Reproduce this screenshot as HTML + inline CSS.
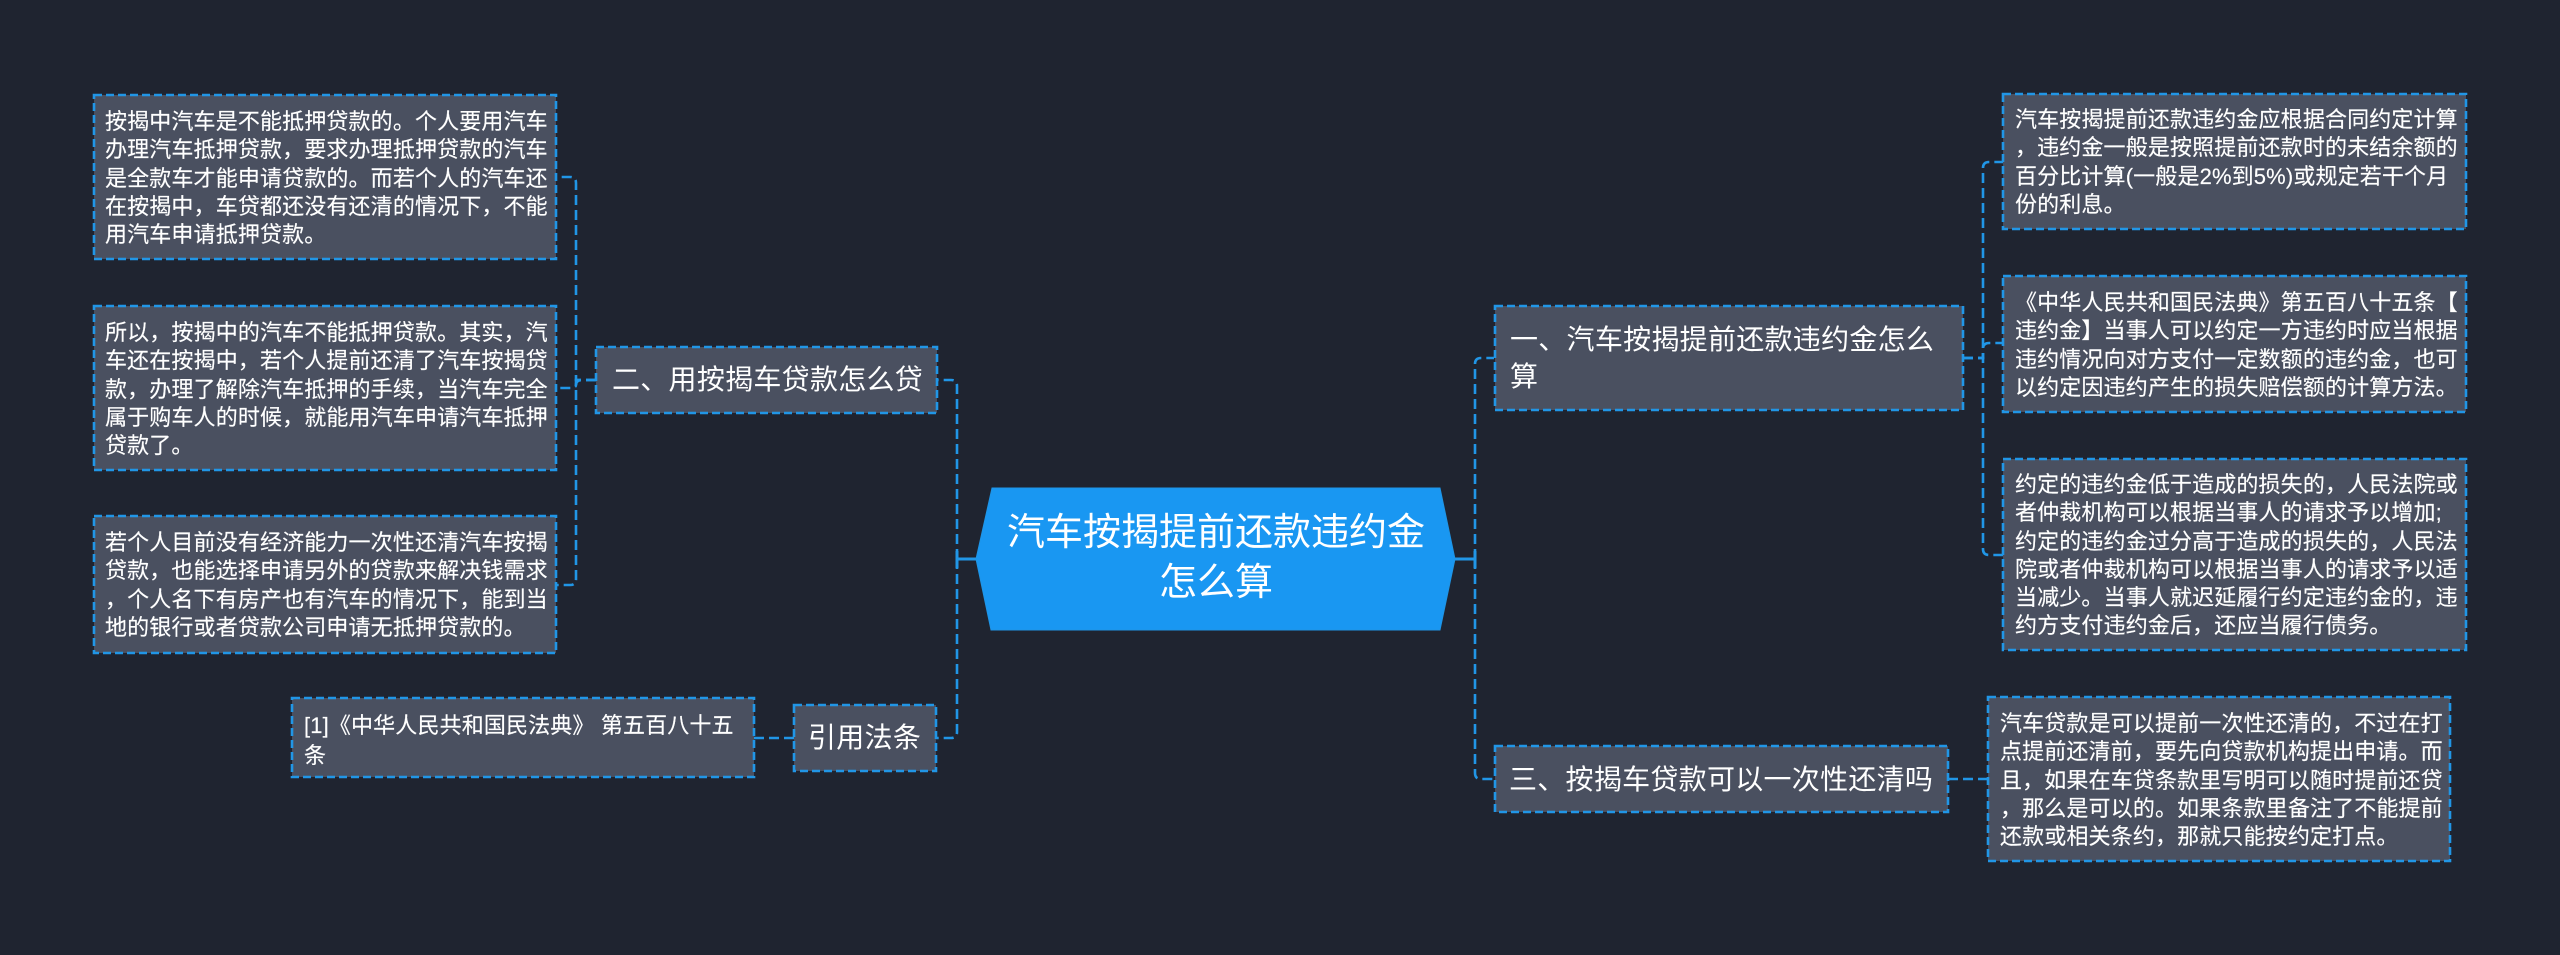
<!DOCTYPE html>
<html lang="zh-CN"><head><meta charset="utf-8"><title>汽车按揭提前还款违约金怎么算</title>
<style>
html,body{margin:0;padding:0;background:#1f2430;}
#c{position:relative;width:2560px;height:955px;overflow:hidden;background:#1f2430;font-family:"Liberation Sans","Noto Sans CJK SC",sans-serif;color:#fff;}
svg{position:absolute;left:0;top:0;}
.t{position:absolute;white-space:nowrap;font-size:22px;line-height:28.3px;letter-spacing:.14px;color:#fff;-webkit-text-stroke:.15px #fff;}
.h{position:absolute;white-space:nowrap;font-size:28px;line-height:37px;letter-spacing:.28px;color:#fff;}
.r{position:absolute;left:976px;width:480px;text-align:center;font-size:38px;line-height:50px;color:#fff;white-space:nowrap;}
</style></head><body><div id="c">
<svg width="2560" height="955" viewBox="0 0 2560 955">
<g fill="none" stroke="#2196e6" stroke-width="2.6" stroke-dasharray="10 5">
<path d="M596 380H576V183Q576 177 570 177H556"/>
<path d="M596 380H576V579Q576 585 570 585H556"/>
<path d="M596 380H582Q576 380 576 385Q576 388 570 388H556"/>
<path d="M957 559V386Q957 380 951 380H937"/>
<path d="M957 559V732Q957 738 951 738H936"/>
<path d="M794 738H754"/>
<path d="M1963 358H1983V168Q1983 162 1989 162H2003"/>
<path d="M1963 358H1983V349Q1983 343 1989 343H2003"/>
<path d="M1963 358H1983V549Q1983 555 1989 555H2003"/>
<path d="M1475 559V364Q1475 358 1469 358H1963" stroke="none"/>
<path d="M1475 559V224Q1475 358 1475 358" stroke="none"/>
<path d="M1475 559V364Q1475 358 1481 358H1494"/>
<path d="M1475 559V773Q1475 779 1481 779H1495"/>
<path d="M1948 779H1988"/>
</g>
<g fill="none" stroke="#2196e6" stroke-width="3">
<path d="M957 551V568M957 559H976M1475 551V568M1455 559H1475"/>
</g>
<polygon points="992,488 1440,488 1455,559 1440,630 991,630 976,559" fill="#1997f2" stroke="#1f95e6" stroke-width="1"/>
<g fill="#4a5060" stroke="#2196e6" stroke-width="2.6" stroke-dasharray="8 4">
<rect x="94" y="95" width="462" height="164"/>
<rect x="94" y="306" width="462" height="164"/>
<rect x="94" y="516" width="462" height="137"/>
<rect x="292" y="698" width="462" height="79"/>
<rect x="596" y="347" width="341" height="66"/>
<rect x="794" y="705" width="142" height="66"/>
<rect x="1495" y="306" width="468" height="104"/>
<rect x="1495" y="746" width="453" height="66"/>
<rect x="2003" y="94" width="463" height="135"/>
<rect x="2003" y="276" width="463" height="136"/>
<rect x="2003" y="459" width="463" height="191"/>
<rect x="1988" y="697" width="462" height="164"/>
</g>
</svg>
<div class="r" style="top:508px">汽车按揭提前还款违约金<br>怎么算</div>
<div class="h" style="left:612px;top:361px">二、用按揭车贷款怎么贷</div>
<div class="h" style="left:808px;top:719px">引用法条</div>
<div class="h" style="left:1510px;top:321px">一、汽车按揭提前还款违约金怎么<br>算</div>
<div class="h" style="left:1509px;top:761px">三、按揭车贷款可以一次性还清吗</div>
<div class="t" style="left:105px;top:108px">按揭中汽车是不能抵押贷款的。个人要用汽车<br>办理汽车抵押贷款，要求办理抵押贷款的汽车<br>是全款车才能申请贷款的。而若个人的汽车还<br>在按揭中，车贷都还没有还清的情况下，不能<br>用汽车申请抵押贷款。</div>
<div class="t" style="left:105px;top:319px">所以，按揭中的汽车不能抵押贷款。其实，汽<br>车还在按揭中，若个人提前还清了汽车按揭贷<br>款，办理了解除汽车抵押的手续，当汽车完全<br>属于购车人的时候，就能用汽车申请汽车抵押<br>贷款了。</div>
<div class="t" style="left:105px;top:529px">若个人目前没有经济能力一次性还清汽车按揭<br>贷款，也能选择申请另外的贷款来解决钱需求<br>，个人名下有房产也有汽车的情况下，能到当<br>地的银行或者贷款公司申请无抵押贷款的。</div>
<div class="t" style="left:304px;top:711px;line-height:30px">[1]《中华人民共和国民法典》 第五百八十五<br>条</div>
<div class="t" style="left:2015px;top:106px">汽车按揭提前还款违约金应根据合同约定计算<br>，违约金一般是按照提前还款时的未结余额的<br>百分比计算(一般是2%到5%)或规定若干个月<br>份的利息。</div>
<div class="t" style="left:2015px;top:289px">《中华人民共和国民法典》第五百八十五条【<br>违约金】当事人可以约定一方违约时应当根据<br>违约情况向对方支付一定数额的违约金，也可<br>以约定因违约产生的损失赔偿额的计算方法。</div>
<div class="t" style="left:2015px;top:471px">约定的违约金低于造成的损失的，人民法院或<br>者仲裁机构可以根据当事人的请求予以增加;<br>约定的违约金过分高于造成的损失的，人民法<br>院或者仲裁机构可以根据当事人的请求予以适<br>当减少。当事人就迟延履行约定违约金的，违<br>约方支付违约金后，还应当履行债务。</div>
<div class="t" style="left:2000px;top:710px">汽车贷款是可以提前一次性还清的，不过在打<br>点提前还清前，要先向贷款机构提出申请。而<br>且，如果在车贷条款里写明可以随时提前还贷<br>，那么是可以的。如果条款里备注了不能提前<br>还款或相关条约，那就只能按约定打点。</div>
</div></body></html>
